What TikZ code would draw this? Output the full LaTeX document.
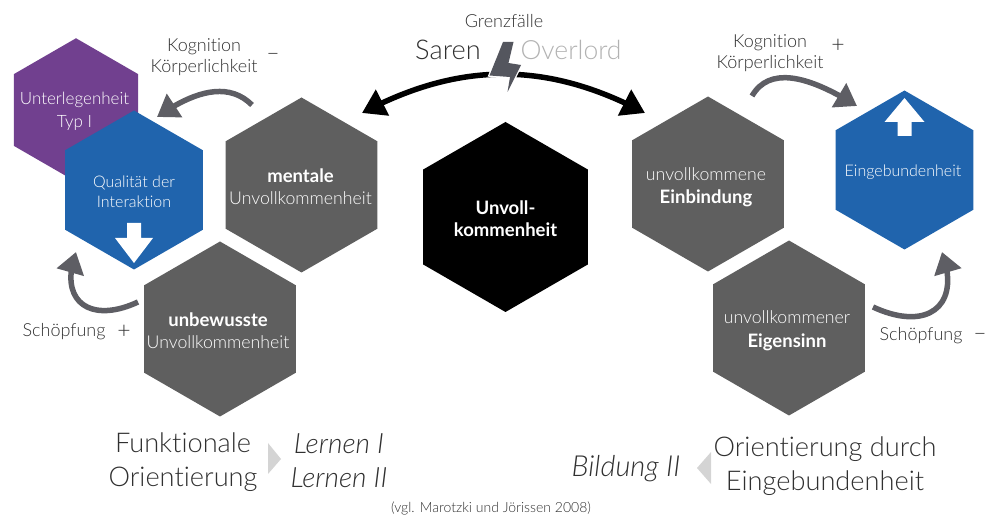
\documentclass[tikz,border=0pt]{standalone}
\usepackage{fontspec}
\setmainfont{Lato Light}[BoldFont=Lato Bold,ItalicFont=Lato Light Italic,Ligatures=NoCommon]
\usepackage{tikz}
\definecolor{hexgray}{HTML}{5F5F5F}
\definecolor{arrowgray}{HTML}{5E5E64}
\definecolor{boltgray}{HTML}{54565E}
\definecolor{hexblue}{HTML}{2064AD}
\definecolor{hexpurple}{HTML}{71408F}
\definecolor{txtgray}{HTML}{303030}
\tikzset{
    hexa/.style={regular polygon, regular polygon sides=6, shape border rotate=30, inner sep=0pt, outer sep=0pt},
    grayhex/.style={hexa, fill=hexgray, minimum size=175pt},
    bluehex/.style={hexa, fill=hexblue, minimum size=159pt},
    blackhex/.style={hexa, fill=black, minimum size=190pt},
    hextxt/.style={text=white, align=center, inner sep=0pt, font=\fontsize{17.7}{22}\selectfont},
    bluetxt/.style={hextxt, font=\fontsize{16}{20}\selectfont},
    lab/.style={text=txtgray, align=center, inner sep=0pt, font=\fontsize{18}{21.5}\selectfont},
    sign/.style={lab, font=\fontsize{23}{23}\selectfont},
    biglab/.style={text=txtgray, align=center, inner sep=0pt, font=\fontsize{27.2}{34.5}\selectfont},
    bigit/.style={biglab, font=\itshape\fontsize{28}{34}\selectfont},
    curved/.style={draw=arrowgray, line width=5.5pt, -{Triangle[length=21pt,width=27pt,flex=0.7]}},
    fatcurved/.style={draw=black, line width=5.5pt, {Triangle[length=23pt,width=28pt,flex=0.7]}-{Triangle[length=23pt,width=28pt,flex=0.7]}},
    pointer/.style={fill=black!17} }
\usetikzlibrary{arrows.meta, bending, positioning, shapes.geometric}
\newcommand{\hb}[1]{{\bfseries\fontsize{18.5}{22}\selectfont #1}}

\begin{document}
\begin{tikzpicture}[x=1pt, y=1pt, on grid]
	\useasboundingbox (0,0) rectangle (991,-518);
	\node[blackhex, label={[hextxt,yshift=-2pt]center:{\hb{Unvoll-}\\\hb{kommenheit}}}] (core) at (505.5,-217) {};
	\node[grayhex, above left = 32pt and 204pt of core, label={[hextxt,yshift=-1.5pt,xshift=-1pt]center:{\hb{mentale}\\Unvollkommenheit}}] (mental) {};
	\node[grayhex, below left = 144pt and 81.5pt of mental, label={[hextxt,yshift=-2pt,xshift=-2pt]center:{\hb{unbewusste}\\Unvollkommenheit}}] (unbew) {};
	\node[grayhex, above right = 33pt and 202.5pt of core, label={[hextxt,xshift=-2pt,yshift=-3pt]center:{unvollkommene\\[1.5pt]\hb{Einbindung}}}] (einb) {};
	\node[grayhex, below right = 144pt and 81pt of einb, label={[hextxt,xshift=-2pt,yshift=-2.5pt]center:{unvollkommener\\[1.5pt]\hb{Eigensinn}}}] (eigen) {};
	\node[hexa, fill=hexpurple, minimum size=143.5pt, above left = 219pt and 144pt of unbew, label={[hextxt,xshift=-1.5pt,yshift=-1.5pt,font=\fontsize{17}{22.5}\selectfont]center:{Unterlegenheit\\Typ I}}] (unter) {};
	\node[bluehex, below right = 80pt and 58pt of unter, label={[bluetxt,yshift=-1.5pt]center:{Qualität der\\Interaktion}}] (quali) {};
	\node[bluehex, above right = 14pt and 196.5pt of einb, label={[bluetxt,xshift=-1.5pt,yshift=-2pt]center:Eingebundenheit}] (einge) {};
	% ----
	\node[lab] (kogl) at (204,-57) {Kognition\\Körperlichkeit};
	\node[sign, right = 69pt of kogl] (kogls) {--};
	\node[lab] (kogr) at (770,-53) {Kognition\\Körperlichkeit};
	\node[sign, right = 68pt of kogr, yshift=7pt] (kogrs) {+};
	\node[lab] (schl) at (64,-332) {Schöpfung};
	\node[sign, right = 60pt of schl] (schls) {+};
	\node[lab] (schr) at (921,-336) {Schöpfung};
	\node[sign, right = 59pt of schr, yshift=-1pt] (schrs) {--};
	\node[lab] (grenz) at (504,-21) {Grenzfälle};
	\node[biglab] (saren) at (448,-50) {Saren};
	\node[biglab, text=black!30, font=\fontsize{26.5}{34}\selectfont] (over) at (571,-50) {Overlord};
	\node[biglab] (funk) at (183,-462) {Funktionale\\Orientierung};
	\node[bigit] (lernen) at (339,-461) {Lernen I\\Lernen II};
	\node[biglab] (orient) at (825,-466) {Orientierung durch\\Eingebundenheit};
	\node[bigit, font=\itshape\fontsize{29}{34}\selectfont] (bild) at (626,-469) {Bildung II};
	\node[lab, font=\fontsize{14}{17}\selectfont] (cite) at (491,-508) {(vgl. Marotzki und Jörissen 2008)};
	% ----
	\coordinate (kla) at (252,-105);
	\coordinate (klb) at (157,-117);
	\coordinate (kra) at (752,-96);
	\coordinate (krb) at (857,-106);
	\coordinate (sla) at (138,-302);
	\coordinate (slb) at (76,-252);
	\coordinate (sra) at (873,-307);
	\coordinate (srb) at (942,-252);
	\coordinate (fatl) at (362,-113);
	\coordinate (fatr) at (645,-113);
	\draw[curved] (kla) to[out=135, in=35] (klb);
	\draw[curved] (kra) to[out=60, in=148] (krb);
	\draw[curved] (sla) to[out=205, in=250, looseness=1.7] (slb);
	\draw[curved] (sra) to[out=-25, in=290, looseness=1.7] (srb);
	\draw[fatcurved] (fatl) to[bend left=28] (fatr);
	% ----
	\fill[white] (quali.center) ++(-7,-33) -- ++(14,0) -- ++(0,-15) -- ++(12,0) -- ++(-19,-25) -- ++(-19,25) -- ++(12,0) -- cycle;
	\fill[white] (einge.center) ++(-7,34) -- ++(14,0) -- ++(0,14) -- ++(13,0) -- ++(-20,24) -- ++(-20,-24) -- ++(13,0) -- cycle;
	\path[fill=boltgray, preaction={draw=white, line width=2.6pt}] (503,-42) -- (513.5,-42) -- (508.5,-63) -- (521,-65) -- (507.5,-92) -- (510,-77) -- (489.5,-75.5) -- cycle;
	\fill[pointer] (268,-443) -- (281,-459) -- (268,-474) -- cycle;
	\fill[pointer] (711,-452) -- (697,-468) -- (711,-484) -- cycle;
\end{tikzpicture}
\end{document}
